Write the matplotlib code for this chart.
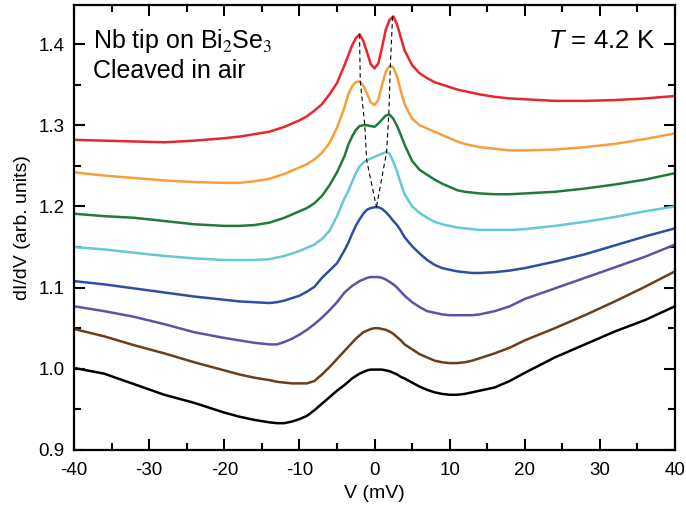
import matplotlib
matplotlib.use("Agg")
import matplotlib.pyplot as plt
from matplotlib.ticker import MultipleLocator

plt.rcParams['font.family'] = ['Liberation Sans', 'DejaVu Sans']
plt.rcParams['axes.unicode_minus'] = False
plt.rcParams['mathtext.fontset'] = 'custom'
plt.rcParams['mathtext.rm'] = 'STIXGeneral'
plt.rcParams['mathtext.it'] = 'Liberation Sans:italic'

# bias voltage (mV), same grid for every spectrum
V = [-40, -36, -32, -28, -24, -20, -18, -16, -14, -13, -12, -11, -10, -9, -8, -7, -6, -5, -4,
     -3.5, -3, -2.5, -2, -1.5, -1, -0.5, 0, 0.5, 1, 1.5, 2, 2.5, 3, 3.5, 4,
     5, 6, 7, 8, 9, 10, 11, 12, 13, 14, 16, 18, 20, 24, 28, 32, 36, 40]

red = [1.282, 1.281, 1.280, 1.279, 1.281, 1.284, 1.286, 1.289, 1.292, 1.295, 1.298, 1.302, 1.306,
       1.311, 1.318, 1.326, 1.338, 1.352, 1.374, 1.386, 1.398, 1.407, 1.412, 1.404, 1.390, 1.375,
       1.370, 1.376, 1.396, 1.418, 1.430, 1.434, 1.424, 1.408, 1.392, 1.374, 1.364,
       1.358, 1.353, 1.350, 1.347, 1.344, 1.342, 1.340, 1.338, 1.335, 1.333, 1.332,
       1.330, 1.330, 1.331, 1.333, 1.336]
orange = [1.242, 1.238, 1.235, 1.232, 1.230, 1.229, 1.229, 1.231, 1.234, 1.237, 1.240, 1.244, 1.248,
          1.252, 1.258, 1.266, 1.278, 1.297, 1.322, 1.338, 1.348, 1.353, 1.354, 1.349, 1.339, 1.328,
          1.325, 1.331, 1.350, 1.366, 1.373, 1.371, 1.360, 1.342, 1.326, 1.308, 1.300,
          1.296, 1.292, 1.288, 1.284, 1.280, 1.277, 1.275, 1.273, 1.271, 1.269, 1.269,
          1.270, 1.273, 1.277, 1.283, 1.290]
green = [1.191, 1.188, 1.186, 1.182, 1.178, 1.176, 1.176, 1.177, 1.180, 1.183, 1.186, 1.190, 1.194,
         1.198, 1.204, 1.213, 1.226, 1.242, 1.262, 1.276, 1.286, 1.294, 1.299, 1.300, 1.300, 1.299,
         1.298, 1.302, 1.307, 1.312, 1.313, 1.308, 1.299, 1.288, 1.276, 1.256, 1.245,
         1.239, 1.233, 1.228, 1.224, 1.220, 1.218, 1.217, 1.216, 1.215, 1.215, 1.216,
         1.218, 1.222, 1.227, 1.233, 1.241]
cyan = [1.150, 1.147, 1.143, 1.139, 1.136, 1.134, 1.134, 1.134, 1.135, 1.137, 1.139, 1.142, 1.145,
        1.149, 1.153, 1.160, 1.170, 1.188, 1.210, 1.219, 1.230, 1.241, 1.249, 1.254, 1.257, 1.259,
        1.261, 1.263, 1.265, 1.267, 1.265, 1.255, 1.243, 1.228, 1.215, 1.200, 1.192,
        1.186, 1.181, 1.178, 1.176, 1.174, 1.173, 1.172, 1.171, 1.171, 1.171, 1.172,
        1.176, 1.181, 1.187, 1.194, 1.200]
blue = [1.108, 1.104, 1.099, 1.094, 1.089, 1.085, 1.083, 1.082, 1.081, 1.082, 1.084, 1.087, 1.090,
        1.095, 1.101, 1.112, 1.121, 1.130, 1.146, 1.155, 1.166, 1.176, 1.184, 1.191, 1.196, 1.198,
        1.199, 1.199, 1.197, 1.193, 1.188, 1.182, 1.177, 1.170, 1.162, 1.151, 1.142,
        1.134, 1.128, 1.124, 1.122, 1.120, 1.119, 1.118, 1.118, 1.119, 1.121, 1.124,
        1.132, 1.141, 1.152, 1.163, 1.173]
purple = [1.077, 1.071, 1.064, 1.055, 1.045, 1.038, 1.035, 1.032, 1.030, 1.030, 1.033, 1.037, 1.042,
          1.048, 1.055, 1.063, 1.072, 1.082, 1.094, 1.098, 1.102, 1.105, 1.108, 1.110, 1.112, 1.113,
          1.113, 1.113, 1.112, 1.110, 1.107, 1.104, 1.100, 1.095, 1.090, 1.082, 1.076,
          1.071, 1.069, 1.067, 1.066, 1.066, 1.066, 1.066, 1.067, 1.071, 1.077, 1.086,
          1.099, 1.112, 1.125, 1.138, 1.153]
brown = [1.049, 1.040, 1.029, 1.019, 1.008, 0.998, 0.993, 0.989, 0.986, 0.984, 0.983, 0.982, 0.982,
         0.982, 0.985, 0.993, 1.002, 1.012, 1.022, 1.027, 1.032, 1.037, 1.041, 1.045, 1.047, 1.049,
         1.050, 1.050, 1.049, 1.048, 1.046, 1.043, 1.039, 1.035, 1.030, 1.024, 1.018,
         1.014, 1.010, 1.008, 1.007, 1.007, 1.008, 1.010, 1.013, 1.019, 1.026, 1.035,
         1.050, 1.066, 1.083, 1.101, 1.120]
black = [1.001, 0.994, 0.981, 0.968, 0.958, 0.946, 0.941, 0.937, 0.934, 0.933, 0.933, 0.935, 0.938,
         0.942, 0.949, 0.957, 0.965, 0.973, 0.980, 0.984, 0.988, 0.991, 0.994, 0.996, 0.998, 0.999,
         0.999, 0.999, 0.999, 0.998, 0.997, 0.995, 0.993, 0.990, 0.988, 0.983, 0.978,
         0.974, 0.971, 0.969, 0.968, 0.968, 0.969, 0.971, 0.973, 0.977, 0.985, 0.995,
         1.014, 1.030, 1.046, 1.060, 1.077]

# peak positions traced by the dashed guide lines
left_V = [-2.0, -1.9, -1.3, -1.05, 0.25]
left_G = [1.412, 1.354, 1.300, 1.257, 1.199]
right_V = [2.4, 2.1, 1.9, 1.6, 0.25]
right_G = [1.434, 1.373, 1.313, 1.267, 1.199]

curves = [(red, '#e8262b'), (orange, '#f7a03a'), (green, '#217a3c'), (cyan, '#66c8d4'),
          (blue, '#2f4ea3'), (purple, '#5f51a8'), (brown, '#6b3e1e'), (black, '#000000')]

fig = plt.figure(figsize=(6.86, 5.09), dpi=100)
ax = fig.add_axes([0.108, 0.116, 0.876, 0.874])

for g, c in curves:
    ax.plot(V, g, color=c, lw=1.8, solid_joinstyle='round')

ax.plot(left_V, left_G, color='k', lw=0.8, ls=(0, (4, 3)))
ax.plot(right_V, right_G, color='k', lw=0.8, ls=(0, (4, 3)))

ax.set_xlim(-40, 40)
ax.set_ylim(0.9, 1.448)
ax.xaxis.set_major_locator(MultipleLocator(10))
ax.xaxis.set_minor_locator(MultipleLocator(5))
ax.yaxis.set_major_locator(MultipleLocator(0.1))
ax.yaxis.set_minor_locator(MultipleLocator(0.05))
ax.tick_params(which='both', direction='in', top=True, right=True, width=1.5,
               labelsize=13.5)
ax.tick_params(which='major', length=8, pad=7)
ax.tick_params(axis='x', which='major', pad=9)
ax.tick_params(which='minor', length=5)
for s in ax.spines.values():
    s.set_linewidth(1.6)

ax.set_xlabel('V (mV)', fontsize=14, labelpad=4)
ax.set_ylabel('dI/dV (arb. units)', fontsize=14, labelpad=5)

ax.text(0.032, 0.903, 'Nb tip on Bi$_2$Se$_3$', transform=ax.transAxes,
        fontsize=18, va='baseline')
ax.text(0.032, 0.836, 'Cleaved in air', transform=ax.transAxes,
        fontsize=18, va='baseline')
ax.text(0.967, 0.903, '$T$ = 4.2 K', transform=ax.transAxes,
        fontsize=18.5, va='baseline', ha='right')

fig.savefig('out.png', dpi=100)
